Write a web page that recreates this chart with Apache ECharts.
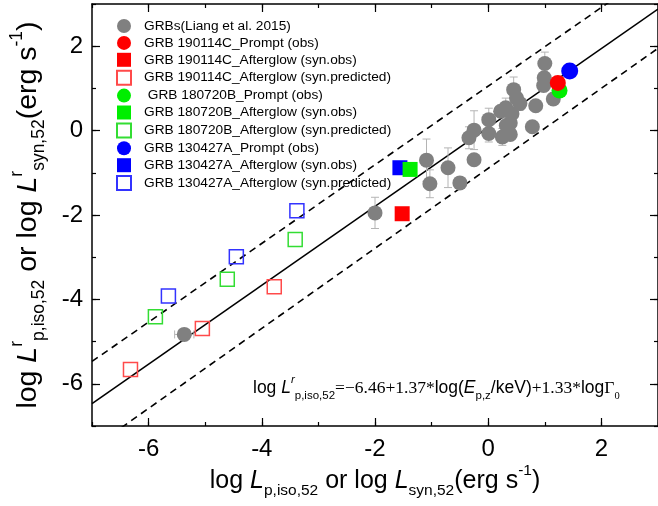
<!DOCTYPE html>
<html>
<head>
<meta charset="utf-8">
<script src="https://cdn.jsdelivr.net/npm/echarts@6/dist/echarts.min.js"></script>
<style>
  html, body { margin: 0; padding: 0; background: #fff; }
  #chart { width: 658px; height: 506px; }
</style>
</head>
<body>
<div id="chart"></div>
<script>
// GRB sample (Liang et al. 2015): [log L, log L^r]
const liangPoints = [
    [1.0, 1.59], [0.99, 1.25], [0.98, 1.07], [1.15, 0.75], [0.45, 0.97],
    [0.5, 0.77], [0.56, 0.64], [0.31, 0.54], [0.84, 0.59], [0.22, 0.46],
    [0.42, 0.40], [0.01, 0.26], [0.39, 0.18], [0.32, 0.12], [0.78, 0.09],
    [-0.25, 0.01], [-0.34, -0.17], [0.01, -0.07], [0.25, -0.15], [0.39, -0.09],
    [-1.09, -0.70], [-0.71, -0.88], [-0.25, -0.69], [-1.03, -1.26], [-0.5, -1.24],
    [-2.0, -1.95], [-5.37, -4.83]
]
const liangYErr = [
    0.27, 0, 0, 0, 0.3,
    0, 0.15, 0.23, 0, 0,
    0, 0.27, 0, 0, 0,
    0.46, 0.26, 0.2, 0.2, 0,
    0.5, 0.47, 0, 0.33, 0,
    0.37, 0
]
const liangXErr = [
    0, 0, 0, 0, 0,
    0, 0, 0, 0, 0,
    0, 0, 0, 0, 0,
    0, 0, 0, 0, 0,
    0, 0, 0, 0, 0,
    0, 0.17
]

const prompt190114C = [[1.23, 1.13]]
const synObs190114C = [[-1.52, -1.97]]
const synPred190114C = [[-6.32, -5.66], [-5.05, -4.69], [-3.78, -3.70]]
const prompt180720B = [[1.26, 0.95]]
const synObs180720B = [[-1.38, -0.92]]
const synPred180720B = [[-5.88, -4.41], [-4.61, -3.52], [-3.41, -2.58]]
const prompt130427A = [[1.44, 1.41]]
const synObs130427A = [[-1.56, -0.88]]
const synPred130427A = [[-5.65, -3.92], [-4.45, -2.99], [-3.38, -1.90]]

// best fit and 1 sigma band, end points
const fitLine = [[-7, -6.47], [3, 2.88]]
const upperLine = [[-7, -5.47], [3, 3.85]]
const lowerLine = [[-7, -7.53], [3, 1.95]]

const axisMin = -7
const axisMax = 3
const majorTicks = [-6, -4, -2, 0, 2]

const FONT = 'Liberation Sans, Arial, sans-serif'
const SERIF = 'Liberation Serif, Times New Roman, serif'

const chart = echarts.init(document.getElementById('chart'))

function axisPair (dim, pos, showLabel) {
    let minorAxis = {
        type: 'value',
        position: pos,
        min: axisMin,
        max: axisMax,
        interval: 1,
        axisLine: { show: true, onZero: false, lineStyle: { color: '#000', width: 1.5 } },
        axisTick: { show: true, inside: true, length: 4, lineStyle: { color: '#000', width: 1.2 } },
        axisLabel: { show: false },
        splitLine: { show: false }
    }
    let majorAxis = {
        type: 'value',
        position: pos,
        min: axisMin,
        max: axisMax,
        interval: 1,
        axisLine: { show: false, onZero: false },
        axisTick: { show: true, inside: true, length: 8, customValues: majorTicks, lineStyle: { color: '#000', width: 1.2 } },
        axisLabel: {
            show: showLabel,
            customValues: majorTicks,
            fontSize: 24,
            fontFamily: FONT,
            color: '#000',
            margin: dim === 'x' ? 11 : 9
        },
        splitLine: { show: false }
    }
    return [minorAxis, majorAxis]
}

const richTitle = {
    n: { fontSize: 25, fontFamily: FONT, color: '#000', lineHeight: 36 },
    i: { fontSize: 25, fontFamily: FONT, fontStyle: 'italic', color: '#000', lineHeight: 36 },
    sub: { fontSize: 15.5, fontFamily: FONT, color: '#000', verticalAlign: 'bottom', lineHeight: 15 },
    sup: { fontSize: 15.5, fontFamily: FONT, color: '#000', verticalAlign: 'top', lineHeight: 15 }
}
const richTitleY = {
    n: { fontSize: 28.5, fontFamily: FONT, color: '#000', lineHeight: 40 },
    i: { fontSize: 28.5, fontFamily: FONT, fontStyle: 'italic', color: '#000', lineHeight: 40 },
    sub: { fontSize: 17.5, fontFamily: FONT, color: '#000', verticalAlign: 'bottom', lineHeight: 17 },
    sup: { fontSize: 17.5, fontFamily: FONT, color: '#000', verticalAlign: 'top', lineHeight: 17 }
}

let xAxes = axisPair('x', 'bottom', true).concat(axisPair('x', 'top', false))
let yAxes = axisPair('y', 'left', true).concat(axisPair('y', 'right', false))

xAxes[0].name = '{n|log }{i|L}{sub|p,iso,52}{n| or log }{i|L}{sub|syn,52}{n|(erg s}{sup|-1}{n|)}'
xAxes[0].nameLocation = 'middle'
xAxes[0].nameGap = 37
xAxes[0].nameTextStyle = { rich: richTitle }

yAxes[0].name = '{n|log }{i|L}{sup|r}{sub|p,iso,52}{n| or log }{i|L}{sup|r}{sub|syn,52}{n|(erg s}{sup|-1}{n|)}'
yAxes[0].nameLocation = 'middle'
yAxes[0].nameGap = 44
yAxes[0].nameTextStyle = { rich: richTitleY }

function errorBars (params, api) {
    let x = api.value(0)
    let y = api.value(1)
    let ex = api.value(2)
    let ey = api.value(3)
    let cap = 4
    let style = { stroke: '#b4b4b4', lineWidth: 1 }
    let children = []
    if (ey > 0) {
        let lo = api.coord([x, y - ey])
        let hi = api.coord([x, y + ey])
        children.push({ type: 'line', shape: { x1: lo[0], y1: lo[1], x2: hi[0], y2: hi[1] }, style: style })
        children.push({ type: 'line', shape: { x1: lo[0] - cap, y1: lo[1], x2: lo[0] + cap, y2: lo[1] }, style: style })
        children.push({ type: 'line', shape: { x1: hi[0] - cap, y1: hi[1], x2: hi[0] + cap, y2: hi[1] }, style: style })
    }
    if (ex > 0) {
        let le = api.coord([x - ex, y])
        let ri = api.coord([x + ex, y])
        children.push({ type: 'line', shape: { x1: le[0], y1: le[1], x2: ri[0], y2: ri[1] }, style: style })
        children.push({ type: 'line', shape: { x1: le[0], y1: le[1] - cap, x2: le[0], y2: le[1] + cap }, style: style })
        children.push({ type: 'line', shape: { x1: ri[0], y1: ri[1] - cap, x2: ri[0], y2: ri[1] + cap }, style: style })
    }
    return { type: 'group', children: children }
}

let errData = liangPoints.map((p, i) => [p[0], p[1], liangXErr[i], liangYErr[i]])

function refLine (data, dashed) {
    return {
        type: 'line',
        data: data,
        symbol: 'none',
        silent: true,
        clip: true,
        z: 1,
        lineStyle: { color: '#000', width: 1.6, type: dashed ? [7, 5] : 'solid' }
    }
}

function filled (name, data, symbol, size, color, z) {
    return {
        name: name,
        type: 'scatter',
        data: data,
        symbol: symbol,
        symbolSize: size,
        z: z,
        itemStyle: { color: color, opacity: 1 }
    }
}

function hollow (name, data, color, z) {
    return {
        name: name,
        type: 'scatter',
        data: data,
        symbol: 'rect',
        symbolSize: 14,
        z: z,
        itemStyle: { color: 'rgba(255,255,255,0)', borderColor: color, borderWidth: 1.5, opacity: 1 }
    }
}

let seriesList = [
    refLine(fitLine, false),
    refLine(upperLine, true),
    refLine(lowerLine, true),
    {
        type: 'custom',
        renderItem: errorBars,
        data: errData,
        silent: true,
        z: 2
    },
    filled('GRBs(Liang et al. 2015)', liangPoints, 'circle', 15, '#808080', 3),
    filled('GRB 190114C_Prompt (obs)', prompt190114C, 'circle', 16, '#ff0000', 8),
    filled('GRB 190114C_Afterglow (syn.obs)', synObs190114C, 'rect', 15, '#ff0000', 5),
    hollow('GRB 190114C_Afterglow (syn.predicted)', synPred190114C, '#ff4a4a', 5),
    filled(' GRB 180720B_Prompt (obs)', prompt180720B, 'circle', 16, '#00ee00', 6),
    filled('GRB 180720B_Afterglow (syn.obs)', synObs180720B, 'rect', 15, '#00ee00', 6),
    hollow('GRB 180720B_Afterglow (syn.predicted)', synPred180720B, '#33dd33', 5),
    filled('GRB 130427A_Prompt (obs)', prompt130427A, 'circle', 17, '#0000ff', 4),
    filled('GRB 130427A_Afterglow (syn.obs)', synObs130427A, 'rect', 15, '#0000ff', 4),
    hollow('GRB 130427A_Afterglow (syn.predicted)', synPred130427A, '#3333ff', 5)
]
seriesList.forEach(s => { s.xAxisIndex = 0; s.yAxisIndex = 0; s.animation = false })

const legendNames = seriesList.filter(s => s.name).map(s => s.name)

let option = {
    animation: false,
    backgroundColor: '#fff',
    grid: { left: 92, top: 4, right: 0, bottom: 80, containLabel: false },
    legend: {
        data: legendNames,
        orient: 'vertical',
        left: 116,
        top: 19,
        padding: 0,
        itemWidth: 14,
        itemHeight: 14,
        itemGap: 2.9,
        selectedMode: false,
        textStyle: { fontSize: 13.7, fontFamily: FONT, color: '#000', padding: [0, 0, 0, 8] }
    },
    xAxis: xAxes,
    yAxis: yAxes,
    graphic: [{
        type: 'text',
        x: 253,
        y: 388,
        silent: true,
        style: {
            text: '{n|log }{i|L}{sup|r}{sub|p,iso,52}{t|=\u22126.46+1.37*}{n|log(}{i|E}{sub|p,z}{n|/keV)}{t|+1.33*}{n|log}{t|\u0393}{sub2|0}',
            verticalAlign: 'middle',
            rich: {
                n: { fontSize: 17.5, fontFamily: FONT, fill: '#000', lineHeight: 28 },
                i: { fontSize: 17.5, fontFamily: FONT, fontStyle: 'italic', fill: '#000', lineHeight: 28 },
                t: { fontSize: 17.5, fontFamily: SERIF, fill: '#000', lineHeight: 28 },
                sub: { fontSize: 11.5, fontFamily: FONT, fill: '#000', verticalAlign: 'bottom', lineHeight: 12 },
                sub2: { fontSize: 10.5, fontFamily: SERIF, fill: '#000', verticalAlign: 'bottom', lineHeight: 12 },
                sup: { fontSize: 11.5, fontFamily: FONT, fontStyle: 'italic', fill: '#000', verticalAlign: 'top', lineHeight: 12 }
            }
        }
    }],
    series: seriesList
}

chart.setOption(option)
</script>
</body>
</html>
